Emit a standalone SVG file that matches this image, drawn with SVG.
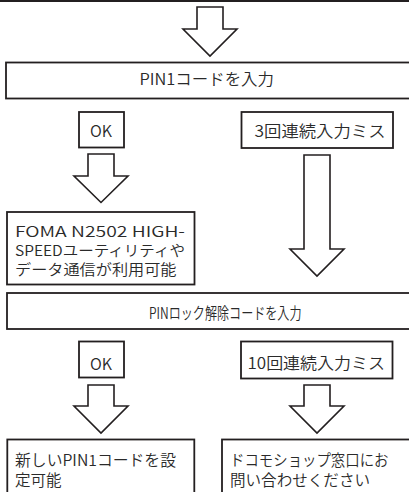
<svg xmlns="http://www.w3.org/2000/svg" width="409" height="492" viewBox="0 0 409 492">
<style>
.box{fill:#fff;stroke:#231f20;stroke-width:1.8}
.arr{fill:#fff;stroke:#231f20;stroke-width:1.6;stroke-linejoin:miter}
text{font-family:"Noto Sans CJK JP",sans-serif;font-size:16px;font-weight:350;fill:#2a2a2a}
.m{font-size:15.5px}
.f{font-size:14.8px}
</style>
<rect width="409" height="492" fill="#fff"/>
<line x1="0" y1="1" x2="409" y2="1" stroke="#231f20" stroke-width="2.2"/>
<g id="connectors">
<polygon class="arr" points="197,7 223,7 223,29 237,29 210,56 183,29 197,29"/>
<polygon class="arr" points="88,154 114,154 114,176 128,176 101,202.5 74,176 88,176"/>
<polygon class="arr" points="304,155 330,155 330,249 344,249 317,276 290,249 304,249"/>
<polygon class="arr" points="88,385 114,385 114,406 128,406 101,433 74,406 88,406"/>
<polygon class="arr" points="304,385 330,385 330,406 344,406 317,433 290,406 304,406"/>
</g>
<g id="n_pin1">
<rect class="box" x="6" y="62.5" width="410" height="36"/>
<text x="139.5" y="85" textLength="134.5" lengthAdjust="spacingAndGlyphs">PIN1コードを入力</text>
</g>
<g id="n_ok1">
<rect class="box" x="79" y="112" width="45" height="35.5"/>
<text x="90" y="137" font-size="17" textLength="22" lengthAdjust="spacingAndGlyphs">OK</text>
</g>
<g id="n_miss3">
<rect class="box" x="241.5" y="112" width="151.5" height="36"/>
<text x="254.5" y="136.5" textLength="131" lengthAdjust="spacingAndGlyphs">3回連続入力ミス</text>
</g>
<g id="n_foma">
<rect class="box" x="7" y="212" width="187.5" height="72.5"/>
<text class="f" x="15" y="236.5" textLength="170" lengthAdjust="spacingAndGlyphs">FOMA N2502 HIGH-</text>
<text class="f" x="15" y="255.5" textLength="170" lengthAdjust="spacingAndGlyphs">SPEEDユーティリティや</text>
<text class="f" x="15" y="274.5" textLength="161.5" lengthAdjust="spacingAndGlyphs">データ通信が利用可能</text>
</g>
<g id="n_pinlock">
<rect class="box" x="7" y="293" width="410" height="36"/>
<text x="149" y="318.5" textLength="152.5" lengthAdjust="spacingAndGlyphs">PINロック解除コードを入力</text>
</g>
<g id="n_ok2">
<rect class="box" x="79" y="341.5" width="45" height="36"/>
<text x="90" y="369.5" font-size="17" textLength="22" lengthAdjust="spacingAndGlyphs">OK</text>
</g>
<g id="n_miss10">
<rect class="box" x="241" y="341.5" width="151.5" height="37"/>
<text x="247.5" y="369" textLength="137.5" lengthAdjust="spacingAndGlyphs">10回連続入力ミス</text>
</g>
<g id="n_newpin">
<rect class="box" x="7.3" y="439.5" width="187" height="60"/>
<text class="m" x="15" y="466" textLength="161" lengthAdjust="spacingAndGlyphs">新しいPIN1コードを設</text>
<text class="m" x="15" y="486">定可能</text>
</g>
<g id="n_docomo">
<rect class="box" x="222" y="439.5" width="195" height="60"/>
<text class="m" x="230" y="466" textLength="158.5" lengthAdjust="spacingAndGlyphs">ドコモショップ窓口にお</text>
<text class="m" x="230" y="486" textLength="140" lengthAdjust="spacingAndGlyphs">問い合わせください</text>
</g>
</svg>
